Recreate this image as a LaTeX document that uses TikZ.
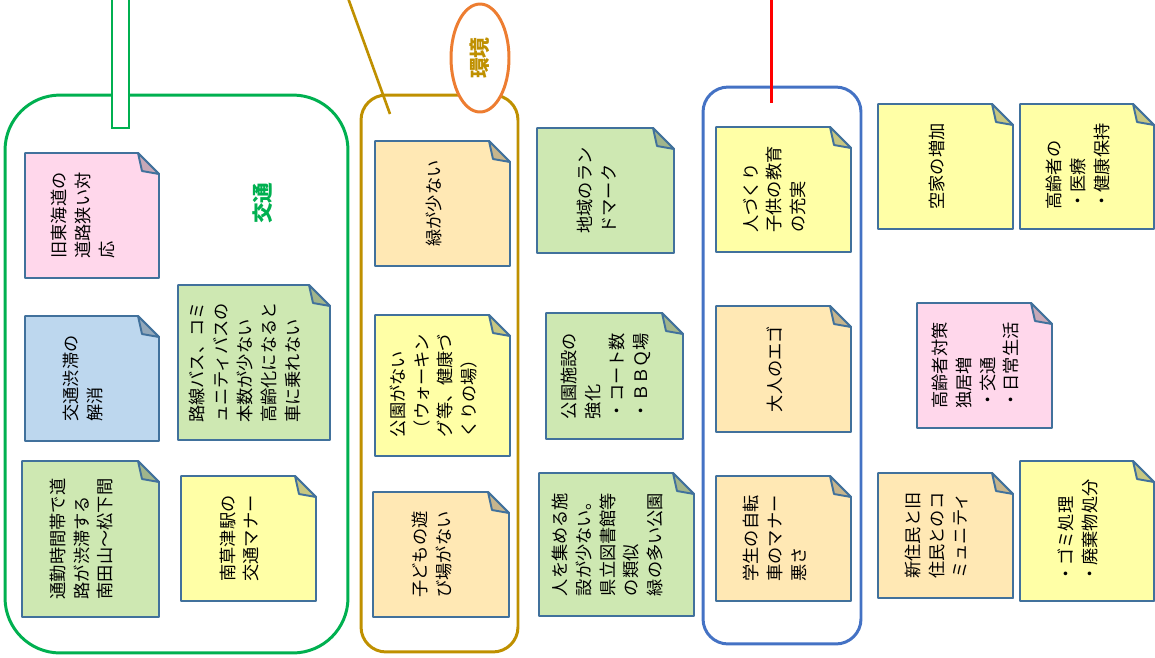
\documentclass[tikz,border=0pt]{standalone}
\usepackage{fontspec}
\setmainfont{Noto Sans CJK JP}
\usetikzlibrary{shapes.geometric}

\definecolor{notepink}{RGB}{255,215,235}
\definecolor{noteblue}{RGB}{189,215,238}
\definecolor{notegreen}{RGB}{206,232,178}
\definecolor{noteyellow}{RGB}{255,255,166}
\definecolor{noteorange}{RGB}{255,232,180}
\definecolor{noteline}{RGB}{65,113,156}
\definecolor{trafficgreen}{RGB}{0,176,80}
\definecolor{envgold}{RGB}{191,144,0}
\definecolor{envorange}{RGB}{237,125,49}
\definecolor{peopleblue}{RGB}{68,114,196}

\tikzset{
  notebody/.style={draw=noteline, line width=1.1pt, line join=round},
  notetext/.style={rotate=90, align=left, inner sep=0pt, font=\fontsize{9.8}{13.6}\selectfont},
  frame/.style={rectangle, line width=1.7pt, inner sep=0pt},
  heading/.style={rotate=90, inner sep=0pt, font=\fontsize{11.8}{14}\selectfont\bfseries},
}

\newcommand{\sticky}[7]{%
  \filldraw[notebody, fill=#6] (#2,#3) -- (#4-21,#3) -- (#4,#3+21) -- (#4,#5) -- (#2,#5) -- cycle;
  \filldraw[notebody, fill=#6!78!black] (#4-21,#3) -- (#4,#3+21) -- (#4-17,#3+18) -- cycle;
  \node[notetext] (#1) at ({(#2+#4)/2-9},{(#3+#5)/2}) {#7};%
}

\begin{document}
\begin{tikzpicture}[x=0.02cm, y=-0.02cm]
\useasboundingbox (0,0) rectangle (1155,657);

\node[frame, draw=trafficgreen, rounded corners=1.1cm, minimum width=6.86cm, minimum height=11.16cm] (traffic) at (176.5,374) {};
\node[frame, draw=trafficgreen, fill=white, minimum width=0.34cm, minimum height=2.66cm] (trafficbar) at (120.5,61.5) {};
\node[heading, text=trafficgreen] (trafficlabel) at (263,203) {交通};

\coordinate (envtop) at (348,-2);
\coordinate (envend) at (390,114);
\node[frame, draw=envgold, rounded corners=0.5cm, minimum width=3.14cm, minimum height=11.14cm] (env) at (439.5,373.5) {};
\draw[envgold, line width=1.5pt] (envtop) -- (envend);
\node[ellipse, draw=envorange, fill=white, line width=1.7pt, rotate=90, minimum width=2.16cm, minimum height=1.16cm, inner sep=0pt, text=envgold, font=\fontsize{11.8}{14}\selectfont\bfseries] (envlabel) at (480,58) {環境};

\coordinate (peopletop) at (771,-2);
\coordinate (peopleend) at (771,103);
\node[frame, draw=peopleblue, rounded corners=0.5cm, minimum width=3.16cm, minimum height=11.14cm] (people) at (782,365.5) {};
\draw[red, line width=1.7pt] (peopletop) -- (peopleend);

\sticky{tr1}{25}{153}{159}{278}{notepink}{旧東海道の\\道路狭い対\\応}
\sticky{tr2}{25}{316}{159}{441}{noteblue}{交通渋滞の\\解消}
\sticky{tr3}{22}{461}{159}{617}{notegreen}{通勤時間帯で道\\路が渋滞する\\南田山〜松下間}
\sticky{tr4}{178}{285}{330}{440}{notegreen}{路線バス、コミ\\ュニティバスの\\本数が少ない\\高齢化になると\\車に乗れない}
\sticky{tr5}{181}{476}{316}{601}{noteyellow}{南草津駅の\\交通マナー}

\sticky{env1}{375}{141}{510}{266}{noteorange}{緑が少ない}
\sticky{env2}{375}{315}{510}{456}{noteyellow}{公園がない\\（ウォーキン\\グ等、健康づ\\くりの場）}
\sticky{env3}{373}{492}{509}{617}{noteorange}{子どもの遊\\び場がない}
\sticky{env4}{537}{128}{674}{253}{notegreen}{地域のラン\\ドマーク}
\sticky{env5}{546}{313}{683}{439}{notegreen}{公園施設の\\強化\\・コート数\\・ＢＢＱ場}
\sticky{env6}{539}{473}{694}{616}{notegreen}{人を集める施\\設が少ない。\\県立図書館等\\の類似\\緑の多い公園}

\sticky{pe1}{716}{127}{851}{252}{noteyellow}{人づくり\\子供の教育\\の充実}
\sticky{pe2}{716}{306}{851}{432}{noteorange}{大人のエゴ}
\sticky{pe3}{716}{476}{851}{601}{noteorange}{学生の自転\\車のマナー\\悪さ}

\sticky{li1}{878}{104}{1013}{229}{noteyellow}{空家の増加}
\sticky{li2}{1020}{104}{1154}{229}{noteyellow}{高齢者の\\・医療\\・健康保持}
\sticky{li3}{917}{303}{1052}{428}{notepink}{高齢者対策\\独居増\\・交通\\・日常生活}
\sticky{li4}{878}{473}{1013}{598}{noteorange}{新住民と旧\\住民とのコ\\ミュニティ}
\sticky{li5}{1020}{461}{1154}{601}{noteyellow}{・ゴミ処理\\・廃棄物処分}
\end{tikzpicture}
\end{document}
